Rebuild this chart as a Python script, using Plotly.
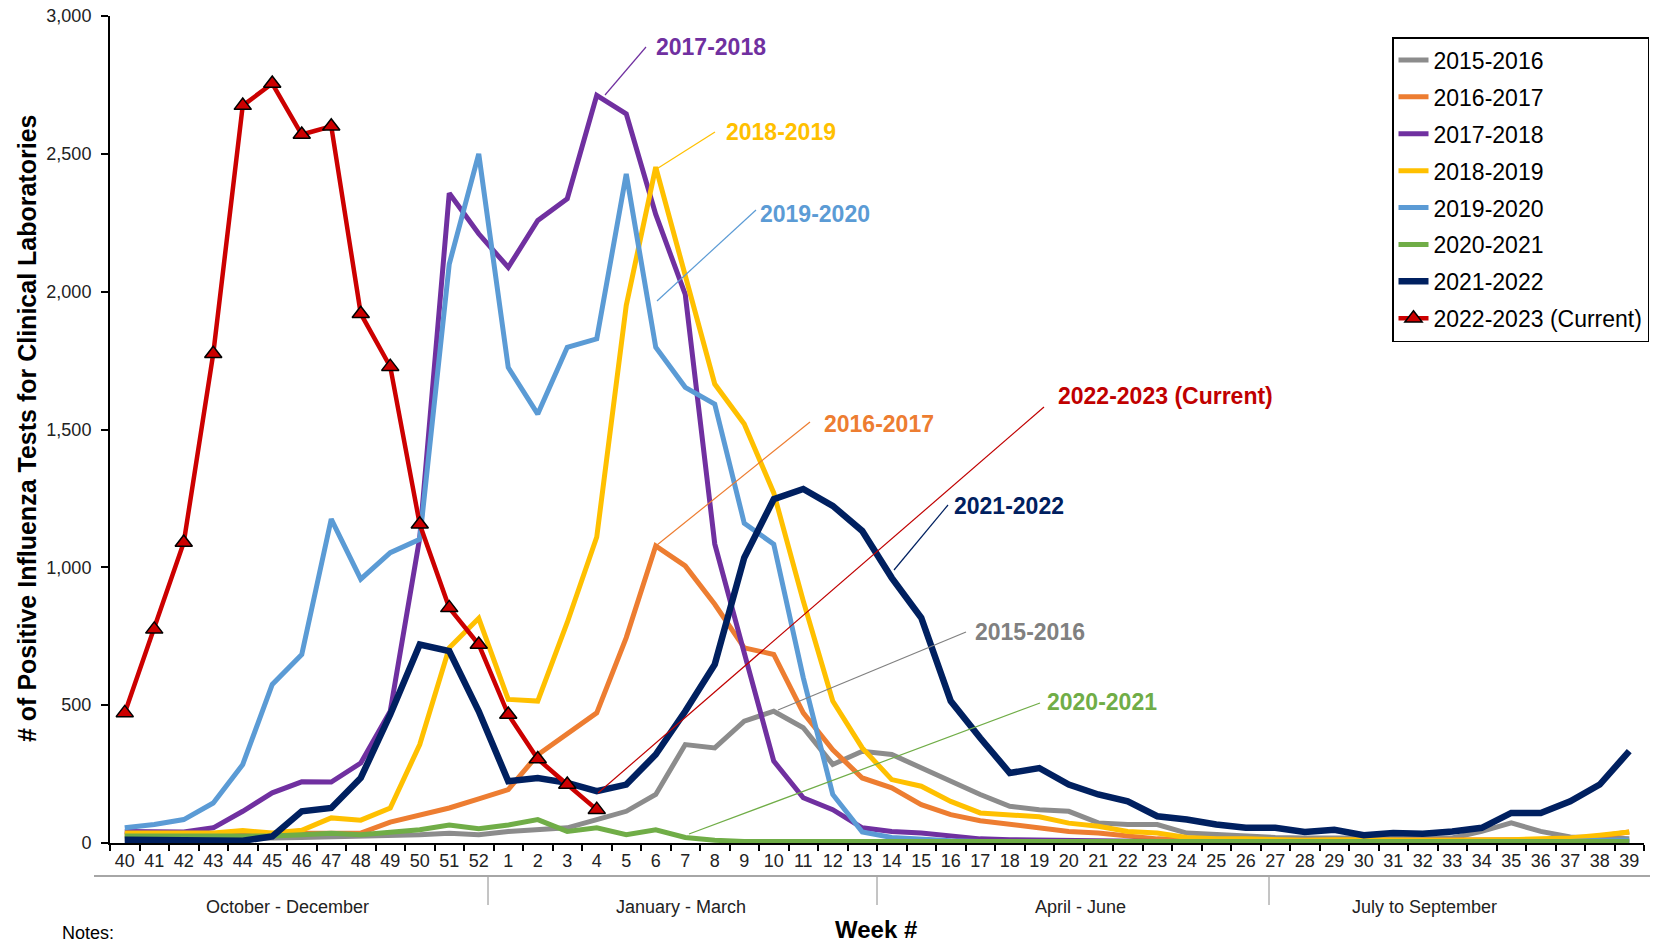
import plotly.graph_objects as go

# ---------------- data ----------------
weeks = [str(w) for w in list(range(40, 53)) + list(range(1, 40))]

s2015_2016 = [15, 15, 15, 15, 15, 18, 20, 22, 22, 25, 30, 35, 30,
              42, 48, 55, 85, 115, 176, 357, 345, 442, 478, 418, 285, 333,
              321, 272, 224, 176, 133, 121, 115, 73, 67, 67, 36, 30, 25,
              20, 18, 18, 15, 15, 15, 18, 42, 73, 42, 22, 20, 15]
s2016_2017 = [30, 30, 30, 30, 30, 32, 35, 36, 36, 76, 100, 127, 160,
              194, 320, 394, 472, 745, 1078, 1005, 866, 708, 684, 472, 338, 236,
              200, 139, 103, 81, 69, 55, 42, 36, 25, 15, 12, 10, 10,
              10, 10, 10, 8, 8, 8, 8, 8, 10, 12, 15, 25, 40]
s2017_2018 = [42, 42, 40, 55, 115, 182, 222, 221, 290, 478, 1108, 2357, 2210,
              2088, 2258, 2337, 2712, 2645, 2280, 1990, 1085, 690, 297, 164, 121, 55,
              42, 36, 25, 15, 12, 10, 8, 5, 5, 5, 5, 5, 5,
              4, 4, 4, 4, 4, 4, 4, 4, 4, 4, 4, 4, 4]
s2018_2019 = [36, 36, 36, 36, 45, 36, 46, 91, 83, 127, 357, 708, 815,
              521, 515, 800, 1110, 1950, 2452, 2052, 1665, 1520, 1270, 878, 515, 345,
              230, 206, 151, 109, 103, 95, 72, 61, 42, 36, 20, 15, 15,
              12, 10, 12, 10, 10, 10, 10, 10, 12, 15, 18, 28, 40]
s2019_2020 = [55, 67, 85, 145, 285, 575, 684, 1175, 957, 1053, 1102, 2100, 2500,
              1725, 1556, 1798, 1829, 2427, 1798, 1653, 1592, 1160, 1084, 600, 176, 40,
              20, 12, 8, 5, 5, 5, 5, 5, 5, 5, 5, 5, 5,
              5, 5, 5, 5, 5, 5, 5, 5, 5, 5, 5, 10, 10]
s2020_2021 = [25, 25, 25, 22, 22, 25, 30, 35, 30, 40, 48, 65, 52,
              65, 85, 42, 55, 30, 48, 20, 10, 5, 5, 5, 5, 5,
              5, 5, 5, 5, 5, 5, 5, 5, 5, 5, 5, 5, 5,
              5, 5, 5, 5, 5, 5, 5, 5, 5, 5, 5, 5, 5]
s2021_2022 = [12, 10, 10, 10, 8, 24, 115, 127, 236, 466, 720, 696, 478,
              224, 236, 218, 188, 212, 321, 478, 648, 1035, 1247, 1284, 1223, 1132,
              962, 817, 515, 381, 254, 272, 212, 176, 151, 97, 85, 67, 55,
              55, 40, 48, 28, 36, 34, 42, 55, 109, 109, 151, 212, 333]
s2022_2023 = [472, 775, 1090, 1775, 2675, 2755, 2570, 2600, 1920, 1728, 1156, 853, 720,
              466, 305, 212, 121]

series_names = ["2015-2016", "2016-2017", "2017-2018", "2018-2019",
                "2019-2020", "2020-2021", "2021-2022", "2022-2023 (Current)"]
series_values = [s2015_2016, s2016_2017, s2017_2018, s2018_2019,
                 s2019_2020, s2020_2021, s2021_2022, s2022_2023]
series_colors = ["#8C8C8C", "#ED7D31", "#7030A0", "#FFC000",
                 "#5B9BD5", "#70AD47", "#002060", "#CC0000"]
series_widths = [5, 5, 5, 5, 5, 5, 6.5, 4.5]

y_ticks = [0, 500, 1000, 1500, 2000, 2500, 3000]
quarters = ["October - December", "January - March", "April - June", "July to September"]

# ---------------- layout geometry (pixels) ----------------
W, H = 1656, 945
ML, MR, MT, MB = 110, 12, 16, 102
PW, PH = W - ML - MR, H - MT - MB
FONT = "Liberation Sans, Arial, sans-serif"


def xp(px):
    return (px - ML) / PW


def yp(py):
    return (H - MB - py) / PH


idx = list(range(len(weeks)))

fig = go.Figure()
for name, vals, col, lw in zip(series_names, series_values, series_colors, series_widths):
    is_cur = name.startswith("2022")
    fig.add_trace(go.Scatter(
        x=idx[:len(vals)], y=vals, name=name, legendgroup=name,
        mode="lines+markers" if is_cur else "lines",
        line=dict(color=col, width=lw),
        marker=dict(symbol="triangle-up", size=15, color=col,
                    line=dict(color="black", width=1.5)) if is_cur else None,
        hoverinfo="skip",
    ))

annotations = []
shapes = []

# callouts: text, color, text-left px, text-y px, line start px, line end px
callouts = [
    ("2017-2018", "#7030A0", 654, 47, (646, 47), (605, 95)),
    ("2018-2019", "#FFC000", 724, 132, (715, 132), (655, 170)),
    ("2019-2020", "#5B9BD5", 758, 214, (756, 210), (657, 301)),
    ("2016-2017", "#ED7D31", 822, 424, (810, 422), (657, 545)),
    ("2022-2023 (Current)", "#C00000", 1056, 396, (1044, 407), (598, 793)),
    ("2021-2022", "#002060", 952, 506, (948, 505), (894, 570)),
    ("2015-2016", "#808080", 973, 632, (966, 632), (778, 710)),
    ("2020-2021", "#70AD47", 1045, 702, (1040, 703), (689, 834)),
]
for txt, col, tx, ty, (x0, y0), (x1, y1) in callouts:
    annotations.append(dict(text=f"<b>{txt}</b>", xref="paper", yref="paper",
                            x=xp(tx), y=yp(ty), xanchor="left", yanchor="middle",
                            showarrow=False, font=dict(family=FONT, size=23, color=col)))
    shapes.append(dict(type="line", xref="paper", yref="paper",
                       x0=xp(x0), y0=yp(y0), x1=xp(x1), y1=yp(y1),
                       line=dict(color=col, width=1.2)))

# quarter labels and separators
q_centers = [287, 681, 1080, 1424]
for q, cx in zip(quarters, q_centers):
    annotations.append(dict(text=q, xref="paper", yref="paper", x=xp(cx), y=yp(907),
                            xanchor="center", yanchor="middle", showarrow=False,
                            font=dict(family=FONT, size=18, color="#222")))
for sx in [488, 877, 1269]:
    shapes.append(dict(type="line", xref="paper", yref="paper",
                       x0=xp(sx), x1=xp(sx), y0=yp(877), y1=yp(905),
                       line=dict(color="#8a8a8a", width=1)))
shapes.append(dict(type="line", xref="paper", yref="paper",
                   x0=xp(94), x1=xp(1650), y0=yp(876), y1=yp(876),
                   line=dict(color="#a6a6a6", width=2)))

annotations.append(dict(text="<b>Week #</b>", xref="paper", yref="paper",
                        x=xp(876), y=yp(929), xanchor="center", yanchor="middle",
                        showarrow=False, font=dict(family=FONT, size=24, color="black")))
annotations.append(dict(text="<b># of Positive Influenza Tests for Clinical Laboratories</b>",
                        xref="paper", yref="paper", x=xp(27), y=yp(429),
                        xanchor="center", yanchor="middle", textangle=-90,
                        showarrow=False, font=dict(family=FONT, size=25, color="black")))
annotations.append(dict(text="Notes:", xref="paper", yref="paper",
                        x=xp(60), y=yp(933), xanchor="left", yanchor="middle",
                        showarrow=False, font=dict(family=FONT, size=18, color="black")))

fig.update_layout(
    width=W, height=H,
    margin=dict(l=ML, r=MR, t=MT, b=MB, autoexpand=False),
    paper_bgcolor="white", plot_bgcolor="white",
    font=dict(family=FONT, color="#222"),
    showlegend=True,
    legend=dict(x=xp(1392), y=yp(37), xanchor="left", yanchor="top",
                bgcolor="white", bordercolor="black", borderwidth=1.5,
                font=dict(family=FONT, size=23, color="black"),
                traceorder="grouped", tracegroupgap=4, itemwidth=30),
    annotations=annotations,
    shapes=shapes,
    xaxis=dict(range=[-0.5, len(weeks) - 0.5], tickmode="array", tickvals=idx, ticktext=weeks,
               ticks="", showgrid=False, zeroline=False,
               showline=True, linecolor="black", linewidth=2,
               tickfont=dict(family=FONT, size=18, color="#222"),
               minor=dict(tickmode="linear", tick0=-0.5, dtick=1, ticks="outside",
                          ticklen=6, tickwidth=1.5, tickcolor="black", showgrid=False)),
    yaxis=dict(range=[0, 3000], tickmode="array", tickvals=y_ticks, tickformat=",",
               ticks="outside", ticklen=7, tickwidth=1.5, tickcolor="black",
               showgrid=False, zeroline=False, showline=True, linecolor="black", linewidth=2,
               ticklabelstandoff=6,
               tickfont=dict(family=FONT, size=18, color="#222")),
)

fig.write_html("out.html", config={"displayModeBar": False},
               post_script="document.body.style.margin='0';document.body.style.overflow='hidden';")
